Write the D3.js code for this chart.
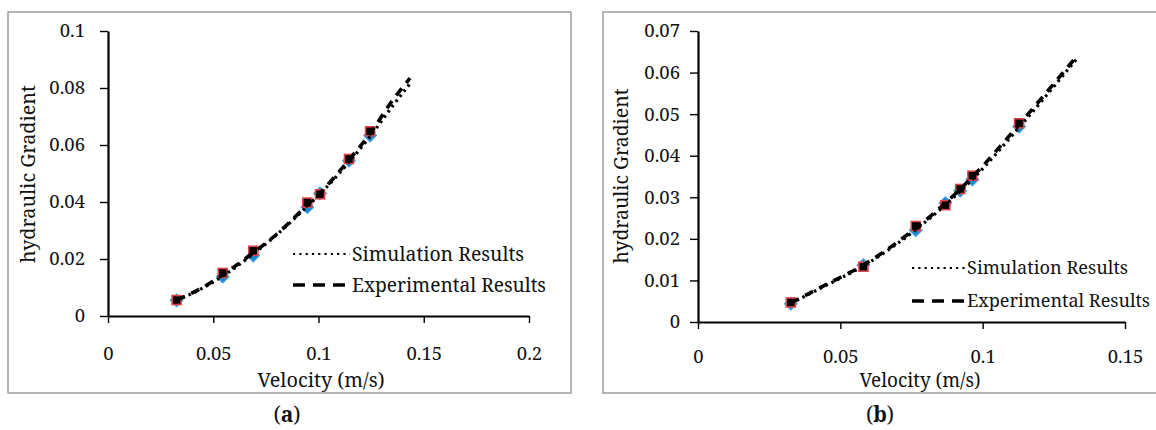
<!DOCTYPE html>
<html>
<head>
<meta charset="utf-8">
<script src="https://cdn.jsdelivr.net/npm/d3@7"></script>
<style>
  html, body { margin: 0; padding: 0; background: #fff; }
  svg { display: block; }
  text { font-family: "Noto Serif", "Liberation Serif", serif; fill: #111; }
</style>
</head>
<body>
<svg id="fig" width="1156" height="430"></svg>
<script>
// ---------- Panel (a) ----------
const velA       = [0.0326, 0.0545, 0.069, 0.0947, 0.1007, 0.1145, 0.1245];
const simPointsA = [0.0055, 0.0138, 0.0212, 0.0382, 0.0430, 0.0545, 0.0633];
const expPointsA = [0.0056, 0.0151, 0.0229, 0.0398, 0.0427, 0.0551, 0.0648];
const curveVelA  = [0.0326, 0.045, 0.0545, 0.069, 0.08, 0.0947, 0.1007, 0.1145, 0.1245, 0.135, 0.1435];
const simCurveA  = [0.0055, 0.0098, 0.0140, 0.0218, 0.0284, 0.0385, 0.0428, 0.0540, 0.0630, 0.0735, 0.0815];
const expCurveA  = [0.0056, 0.0100, 0.0145, 0.0222, 0.0286, 0.0390, 0.0432, 0.0548, 0.0640, 0.0755, 0.0835];
const xTicksA    = [0, 0.05, 0.1, 0.15, 0.2];
const yTicksA    = [0, 0.02, 0.04, 0.06, 0.08, 0.1];

// ---------- Panel (b) ----------
const velB       = [0.0326, 0.0581, 0.0765, 0.0869, 0.0921, 0.0964, 0.1128];
const simPointsB = [0.0044, 0.0137, 0.0221, 0.0286, 0.0316, 0.0343, 0.0470];
const expPointsB = [0.0047, 0.0133, 0.0231, 0.0281, 0.0320, 0.0352, 0.0478];
const curveVelB  = [0.0326, 0.045, 0.0581, 0.0765, 0.0869, 0.0964, 0.1128, 0.123, 0.1329];
const simCurveB  = [0.0045, 0.0088, 0.0135, 0.0222, 0.0282, 0.0343, 0.0468, 0.0550, 0.0632];
const expCurveB  = [0.0046, 0.0090, 0.0137, 0.0226, 0.0286, 0.0349, 0.0475, 0.0557, 0.0638];
const xTicksB    = [0, 0.05, 0.1, 0.15];
const yTicksB    = [0, 0.01, 0.02, 0.03, 0.04, 0.05, 0.06, 0.07];

const seriesNames = ["Simulation Results", "Experimental Results"];
const yTitle = "hydraulic Gradient";
const xTitle = "Velocity (m/s)";

const svg = d3.select("#fig");
const fmt = d3.format("~g");

// set a text element to an exact printed width
function fitWidth(sel, w) {
  if (w) sel.attr("textLength", w).attr("lengthAdjust", "spacingAndGlyphs");
  return sel;
}

function drawPanel(cfg) {
  const g = svg.append("g");

  // frame
  g.append("rect")
    .attr("x", cfg.box[0]).attr("y", cfg.box[1])
    .attr("width", cfg.box[2]).attr("height", cfg.box[3])
    .attr("fill", "none").attr("stroke", "#a3a3a3").attr("stroke-width", 1.6);

  const x = d3.scaleLinear().domain([0, cfg.xMax]).range([cfg.plot.left, cfg.plot.right]);
  const y = d3.scaleLinear().domain([0, cfg.yMax]).range([cfg.plot.bottom, cfg.plot.top]);

  // y axis
  const ya = g.append("g")
    .attr("transform", `translate(${cfg.plot.left},0)`)
    .call(d3.axisLeft(y).tickValues(cfg.yTicks).tickFormat(fmt).tickSize(8).tickSizeOuter(0).tickPadding(cfg.yPad));
  // x axis
  const xa = g.append("g")
    .attr("transform", `translate(0,${cfg.plot.bottom})`)
    .call(d3.axisBottom(x).tickValues(cfg.xTicks).tickFormat(fmt).tickSize(7).tickSizeOuter(0));

  [ya, xa].forEach(a => {
    a.attr("font-family", null).attr("font-size", null);
    a.select(".domain").attr("stroke", "#000").attr("stroke-width", 2.2);
    a.selectAll(".tick line").attr("stroke", "#000").attr("stroke-width", 1.4);
    a.selectAll("text").attr("font-size", 18.5).attr("fill", "#111");
  });
  xa.selectAll(".tick text").attr("y", cfg.xLabelOffset).attr("dy", "0.35em");

  // axis titles
  fitWidth(g.append("text")
    .attr("transform", `translate(${cfg.yTitlePos[0]},${cfg.yTitlePos[1]}) rotate(-90)`)
    .attr("text-anchor", "middle").attr("dy", "0.35em")
    .attr("font-size", 19).text(yTitle), cfg.yTitleW);
  fitWidth(g.append("text")
    .attr("x", cfg.xTitlePos[0]).attr("y", cfg.xTitlePos[1])
    .attr("text-anchor", "middle").attr("dy", "0.35em")
    .attr("font-size", 19).text(xTitle), cfg.xTitleW);

  // curves
  const line = d3.line().x(d => x(d[0])).y(d => y(d[1])).curve(d3.curveMonotoneX);
  const expCurve = cfg.curveVel.map((v, i) => [v, cfg.expCurve[i]]);
  const simCurve = cfg.curveVel.map((v, i) => [v, cfg.simCurve[i]]);

  // markers: simulation = blue diamond, experiment = red-edged square
  const sym = d3.symbol().type(d3.symbolDiamond2).size(100);
  g.append("g").selectAll("path")
    .data(cfg.vel.map((v, i) => [v, cfg.simPts[i]]))
    .join("path")
    .attr("transform", d => `translate(${x(d[0])},${y(d[1])})`)
    .attr("d", sym)
    .attr("fill", "#1b87cf").attr("stroke", "#3aa3e6").attr("stroke-width", 1.2);

  const sq = 9;
  g.append("g").selectAll("rect")
    .data(cfg.vel.map((v, i) => [v, cfg.expPts[i]]))
    .join("rect")
    .attr("x", d => x(d[0]) - sq / 2).attr("y", d => y(d[1]) - sq / 2)
    .attr("width", sq).attr("height", sq)
    .attr("fill", "#000").attr("stroke", "#e0454a").attr("stroke-width", 1.6);

  g.append("path").datum(expCurve)
    .attr("d", line).attr("fill", "none").attr("stroke", "#000")
    .attr("stroke-width", 3.6).attr("stroke-dasharray", "9,7");
  g.append("path").datum(simCurve)
    .attr("d", line).attr("fill", "none").attr("stroke", "#000")
    .attr("stroke-width", 3.2).attr("stroke-dasharray", "2.5,4");

  // legend
  const L = cfg.legend;
  g.append("line")
    .attr("x1", L.x0).attr("x2", L.x1).attr("y1", L.y0).attr("y2", L.y0)
    .attr("stroke", "#000").attr("stroke-width", 2.2).attr("stroke-dasharray", "2.2,4.1");
  g.append("line")
    .attr("x1", L.x0).attr("x2", L.x1).attr("y1", L.y1).attr("y2", L.y1)
    .attr("stroke", "#000").attr("stroke-width", 3.6).attr("stroke-dasharray", "12,8");
  [L.y0, L.y1].forEach((yy, i) => {
    fitWidth(g.append("text").attr("x", L.x1 + 2).attr("y", yy).attr("dy", "0.35em")
      .attr("font-size", L.fs).text(seriesNames[i]), L.w[i]);
  });

  // caption
  const cap = g.append("text").attr("x", cfg.caption[0]).attr("y", cfg.caption[1])
    .attr("text-anchor", "middle").attr("dy", "0.35em").attr("font-size", 21);
  cap.append("tspan").text("(");
  cap.append("tspan").attr("font-weight", "bold").text(cfg.letter);
  cap.append("tspan").text(")");
}

drawPanel({
  box: [8, 12, 563, 381],
  plot: { left: 108, right: 529, top: 31, bottom: 316 },
  xMax: 0.2, yMax: 0.1,
  xTicks: xTicksA, yTicks: yTicksA, yPad: 15, xLabelOffset: 38,
  yTitlePos: [28, 174], yTitleW: 178, xTitlePos: [321, 380], xTitleW: 127,
  vel: velA, simPts: simPointsA, expPts: expPointsA,
  curveVel: curveVelA, simCurve: simCurveA, expCurve: expCurveA,
  legend: { x0: 293, x1: 350, y0: 254, y1: 285, w: [172, 194], fs: 19 },
  caption: [287, 415], letter: "a"
});

drawPanel({
  box: [603, 12, 556, 381],
  plot: { left: 698, right: 1125, top: 31, bottom: 322 },
  xMax: 0.15, yMax: 0.07,
  xTicks: xTicksB, yTicks: yTicksB, yPad: 10, xLabelOffset: 35,
  yTitlePos: [621, 176], yTitleW: 175, xTitlePos: [920, 380], xTitleW: 121,
  vel: velB, simPts: simPointsB, expPts: expPointsB,
  curveVel: curveVelB, simCurve: simCurveB, expCurve: expCurveB,
  legend: { x0: 912, x1: 965, y0: 268, y1: 301, w: [161, 183], fs: 17.5 },
  caption: [880, 415], letter: "b"
});
</script>
</body>
</html>
